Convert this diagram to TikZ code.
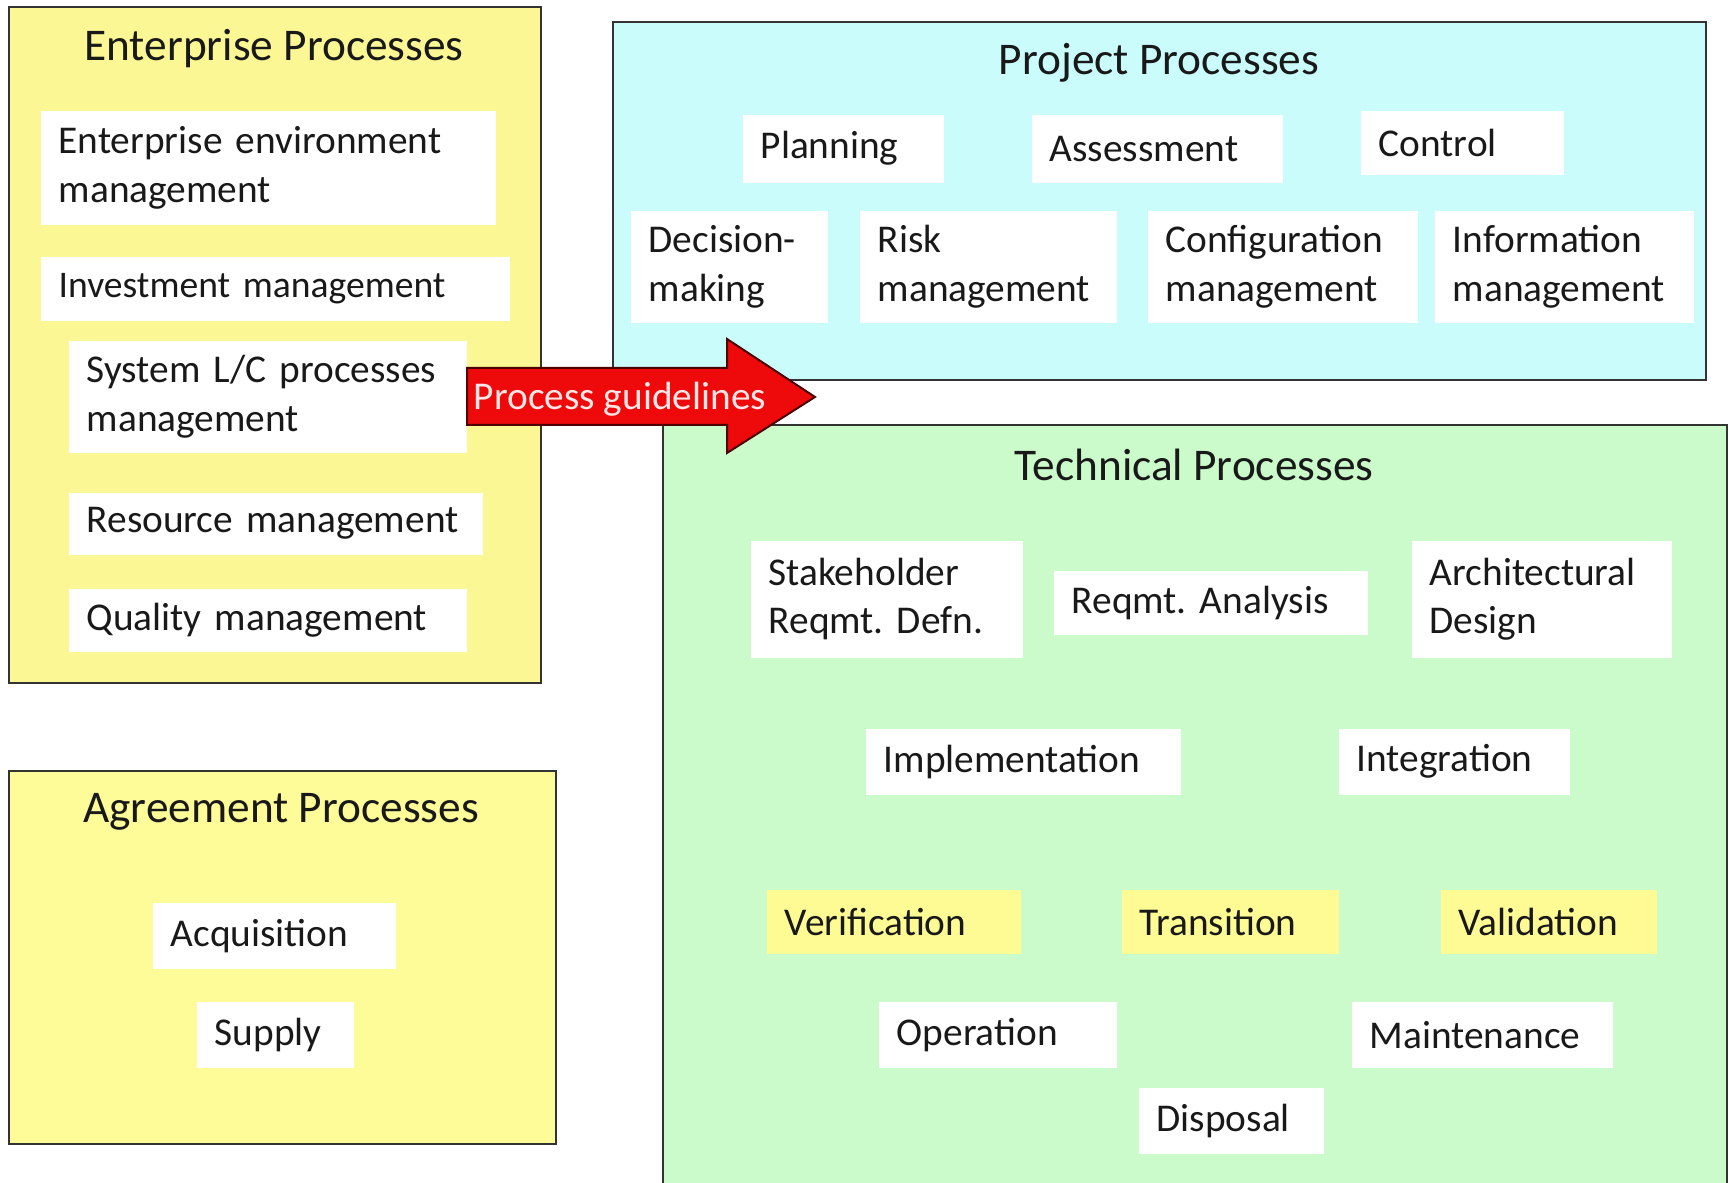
\documentclass[tikz,border=0pt]{standalone}
\usepackage{fontspec}
\setmainfont{Carlito}

\definecolor{entyellow}{HTML}{FBF795}
\definecolor{agryellow}{HTML}{FEFB99}
\definecolor{projcyan}{HTML}{CAFCFC}
\definecolor{techgreen}{HTML}{CBFBCB}
\definecolor{vvyellow}{HTML}{FEFA94}
\definecolor{guidered}{HTML}{EE0A0A}
\definecolor{guidetext}{HTML}{FFE6E6}

\newcommand{\itemfont}{\fontsize{11.2}{13.8}\selectfont}
\newcommand{\headfont}{\fontsize{12.9}{15.5}\selectfont}
\frenchspacing
\hyphenpenalty=10000

\begin{document}
\begin{tikzpicture}[x=0.1mm,y=-0.1mm,
    procbox/.style={draw=black!80, line width=0.2mm},
    heading/.style={font=\headfont, text=black!90, inner sep=0pt},
    item/.style={fill=white, anchor=north west, align=left, inner xsep=1.8mm,
      inner ysep=0pt, font=\itemfont, text=black!90},
    vitem/.style={item, fill=vvyellow},
    guidearrow/.style={fill=guidered, draw=black!70!red, line width=0.2mm}]
  \clip (0,0) rectangle (1729,1183);
  \fill[white] (0,0) rectangle (1729,1183);

  % process groups
  \draw[procbox, fill=entyellow] (9,7) rectangle (541,683);
  \draw[procbox, fill=agryellow] (9,771) rectangle (556,1144);
  \draw[procbox, fill=projcyan] (613,22) rectangle (1706,380);
  \draw[procbox, fill=techgreen] (663,425) rectangle (1727,1200);

  % enterprise
  \node[heading] (enttitle) at (274,49) {Enterprise Processes};
  \node[item, text width=41.9mm, minimum height=11.4mm] (envmgt) at (40,110)
    {Enterprise environment\\management};
  \node[item, text width=43.3mm, minimum height=6.4mm,
    font=\fontsize{10.7}{13}\selectfont] (invmgt) at (40,256) {Investment management};
  \node[item, text width=36.2mm, minimum height=11.2mm] (lcmgt) at (68,340)
    {System L/C processes\\management};
  \node[item, text width=37.8mm, minimum height=6.2mm] (resmgt) at (68,492) {Resource management};
  \node[item, text width=36.2mm, minimum height=6.3mm] (qualmgt) at (68,588) {Quality management};

  % agreement
  \node[heading] (agrtitle) at (281,812) {Agreement Processes};
  \node[item, text width=20.7mm, minimum height=6.6mm] (acq) at (152,902) {Acquisition};
  \node[item, text width=12.1mm, minimum height=6.6mm] (supply) at (196,1001) {Supply};

  % project
  \node[heading] (projtitle) at (1159,63) {Project Processes};
  \node[item, text width=16.5mm, minimum height=6.8mm] (plan) at (742,114) {Planning};
  \node[item, text width=21.5mm, minimum height=6.8mm] (assess) at (1031,114) {Assessment};
  \node[item, text width=16.7mm, minimum height=6.4mm] (ctrl) at (1360,110) {Control};
  \node[item, text width=16.1mm, minimum height=11.2mm] (decide) at (630,210) {Decision-\\making};
  \node[item, text width=22.1mm, minimum height=11.2mm] (risk) at (859,210) {Risk\\management};
  \node[item, text width=23.4mm, minimum height=11.2mm] (config) at (1147,210) {Configuration\\management};
  \node[item, text width=22.3mm, minimum height=11.2mm] (info) at (1434,210) {Information\\management};

  % technical
  \node[heading] (techtitle) at (1194,465) {Technical Processes};
  \node[item, text width=23.6mm, minimum height=11.7mm] (stake) at (750,540) {Stakeholder\\Reqmt. Defn.};
  \node[item, text width=27.8mm, minimum height=6.4mm] (reqan) at (1053,570) {Reqmt. Analysis};
  \node[item, text width=22.4mm, minimum height=11.7mm] (arch) at (1411,540) {Architectural\\Design};
  \node[item, text width=27.9mm, minimum height=6.6mm] (impl) at (865,728) {Implementation};
  \node[item, text width=19.5mm, minimum height=6.6mm] (integ) at (1338,728) {Integration};
  \node[vitem, text width=21.8mm, minimum height=6.4mm] (verif) at (766,889) {Verification};
  \node[vitem, text width=18.1mm, minimum height=6.4mm] (trans) at (1121,889) {Transition};
  \node[vitem, text width=18.0mm, minimum height=6.4mm] (valid) at (1440,889) {Validation};
  \node[item, text width=20.2mm, minimum height=6.6mm] (oper) at (878,1001) {Operation};
  \node[item, text width=22.5mm, minimum height=6.6mm] (maint) at (1351,1001) {Maintenance};
  \node[item, text width=14.9mm, minimum height=6.6mm] (disp) at (1138,1087) {Disposal};

  % guideline arrow
  \draw[guidearrow] (467,368) -- (727,368) -- (727,339) -- (815,397)
    -- (727,453) -- (727,425) -- (467,425) -- cycle;
  \node[font=\itemfont, text=guidetext, inner sep=0pt] (guide) at (620,399) {Process guidelines};
\end{tikzpicture}
\end{document}
